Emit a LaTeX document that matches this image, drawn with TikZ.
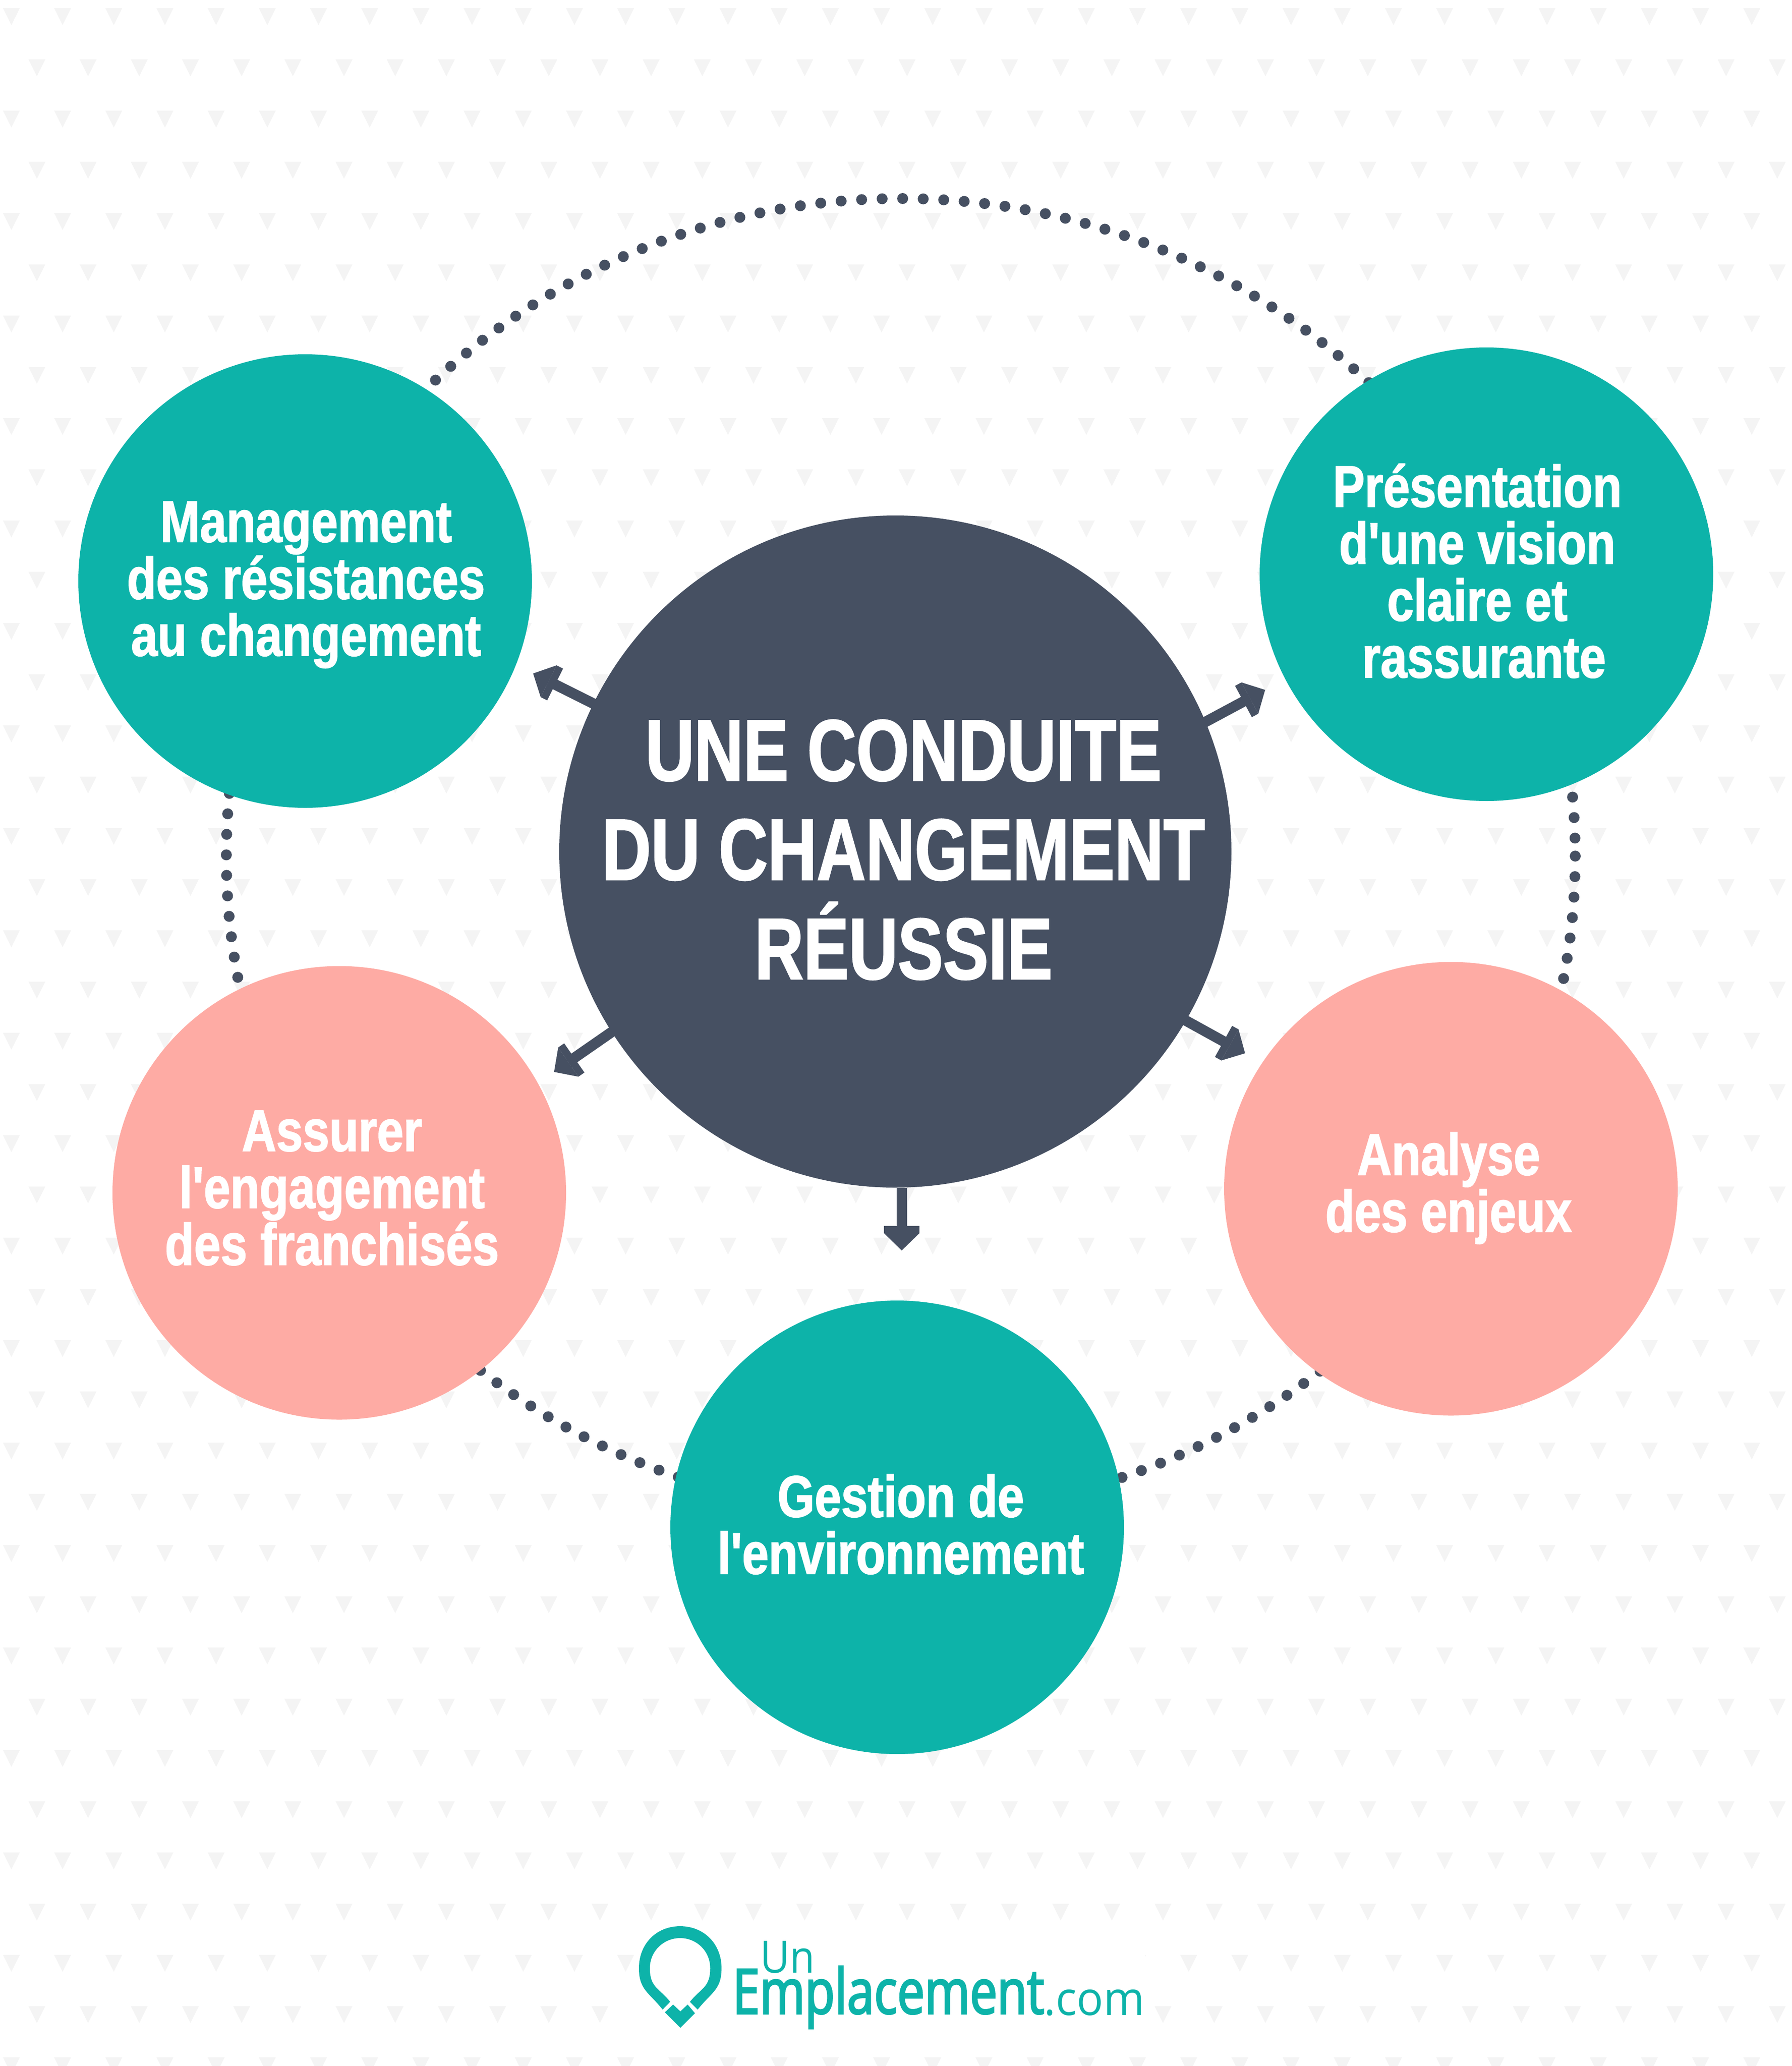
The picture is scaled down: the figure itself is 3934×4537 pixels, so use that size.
\documentclass[tikz,border=0pt]{standalone}
\usepackage{fontspec}
\usetikzlibrary{arrows.meta,calc}
\newfontfamily\rcond[FakeStretch=0.812,FakeBold=1.5]{Liberation Sans}
\newfontfamily\rcondhub[FakeStretch=0.78,FakeBold=1.5]{Liberation Sans}
\newfontfamily\logoA[FakeStretch=0.91]{Open Sans}
\newfontfamily\logoB[FakeStretch=0.78,FakeBold=2.5]{Open Sans}
\newfontfamily\logoC[FakeStretch=0.94]{Open Sans}
\definecolor{teal1}{HTML}{0DB3A9}
\definecolor{salmon1}{HTML}{FEABA4}
\definecolor{navy1}{HTML}{465062}
\definecolor{motif}{HTML}{F4F4F4}
\tikzset{
  disc/.style={circle,minimum size=249pt,inner sep=0pt,fill=#1},
  hubdisc/.style={circle,minimum size=369pt,inner sep=0pt,fill=navy1},
  lab/.style={text=white,align=center,anchor=base,inner sep=0pt,
    font=\fontsize{32.25}{31.25}\selectfont\rcond\bfseries},
  hublab/.style={text=white,align=center,anchor=base,inner sep=0pt,
    font=\fontsize{47.75}{54.5}\selectfont\rcondhub\bfseries},
  spoke/.style={draw=navy1,line width=5.75pt,
    -{Square[length=4pt,width=19.5pt,line width=0pt,sep=0pt]Triangle[length=9.5pt,width=19.5pt,line width=0pt,sep=0pt]}},
  dotring/.style={draw=navy1,line width=6pt,line cap=round,dash pattern=on 0pt off 11.27pt},
  logotext/.style={text=teal1,anchor=base west,inner sep=0pt}
}
\begin{document}
\begin{tikzpicture}[x=0.25pt,y=-0.25pt]
\clip (0,0) rectangle (3934,4537);
\fill[white] (0,0) rectangle (3934,4537);
% background motif
\foreach \j in {0,...,40}{
  \pgfmathtruncatemacro{\odd}{mod(\j,2)}
  \pgfmathsetmacro{\yy}{18+112.5*\j}
  \pgfmathsetmacro{\xs}{\odd==1 ? 81 : 25}
  \foreach \k in {0,...,35}{
    \pgfmathsetmacro{\xx}{\xs+112.4*\k}
    \fill[motif] (\xx-18.5,\yy) -- (\xx+18.5,\yy) -- (\xx,\yy+37) -- cycle;
  }
}
\fill[white] (1400,4225) rectangle (2514,4500);
% dotted ring
\draw[dotring] (1978,1880) ellipse [x radius=1481, y radius=1444];
% discs
\node[disc=teal1] (mgmt) at (670,1276) {};
\node[disc=teal1] (pres) at (3264,1261) {};
\node[disc=salmon1] (assu) at (745,2619.5) {};
\node[disc=salmon1] (anal) at (3186,2610.5) {};
\node[disc=teal1] (gest) at (1970,3354) {};
\node[hubdisc] (hub) at (1966,1870) {};
% arrow ends
\coordinate (tipTL) at (1170.7,1479);
\coordinate (tipTR) at (2778,1515);
\coordinate (tipBL) at (1216.7,2354);
\coordinate (tipBR) at (2734,2313);
\coordinate (tipB) at (1980,2746);
\draw[spoke] ($(hub.center)+(153.9:184pt)$) -- (tipTL);
\draw[spoke] ($(hub.center)+(22.67:184pt)$) -- (tipTR);
\draw[spoke] ($(hub.center)+(212.46:184pt)$) -- (tipBL);
\draw[spoke] ($(hub.center)+(-30.2:184pt)$) -- (tipBR);
\draw[spoke] ([xshift=3.5pt]hub.south) -- (tipB);
% labels
\node[lab] (mgmtT) at (672,1440) {Management\\des résistances\\au changement};
\node[lab] (presT) at (3244,1488) {Présentation\\d'une vision\\claire et\\\hspace*{7.25pt}rassurante};
\node[lab] (assuT) at (729,2777.7) {Assurer\\l'engagement\\des franchisés};
\node[lab] (analT) at (3181,2705) {Analyse\\des enjeux};
\node[lab] (gestT) at (1978,3456) {Gestion de\\l'environnement};
\node[hublab] (hubT) at (1984,2150) {UNE CONDUITE\\DU CHANGEMENT\\RÉUSSIE};
% logo
\fill[teal1] (1455,4413) .. controls (1425,4375) and (1403,4370) .. (1403,4322)
  .. controls (1403,4270) and (1440,4230) .. (1493.5,4230)
  .. controls (1547,4230) and (1584.4,4270) .. (1584.4,4322)
  .. controls (1584.4,4370) and (1562,4375) .. (1532,4413)
  -- (1515,4396)
  .. controls (1540,4365) and (1559.5,4365) .. (1559.5,4322)
  .. controls (1559.5,4285) and (1530,4256) .. (1493.5,4256)
  .. controls (1457,4256) and (1427,4285) .. (1427,4322)
  .. controls (1427,4365) and (1447,4365) .. (1471.6,4396)
  -- cycle;
\fill[teal1] (1460,4419) -- (1478,4402) -- (1494,4417) -- (1510,4402) -- (1526,4421) -- (1494,4453) -- cycle;
\node[logotext,font=\fontsize{24.5}{24.5}\selectfont\logoA] (logoUn) at (1669,4332) {Un};
\node[logotext,font=\fontsize{34.25}{34.25}\selectfont\logoB] (logoEm) at (1608,4422) {Emplacement};
\node[logotext,font=\fontsize{25.75}{25.75}\selectfont\logoC] (logoCom) at (2292,4425) {.com};
\end{tikzpicture}
\end{document}
